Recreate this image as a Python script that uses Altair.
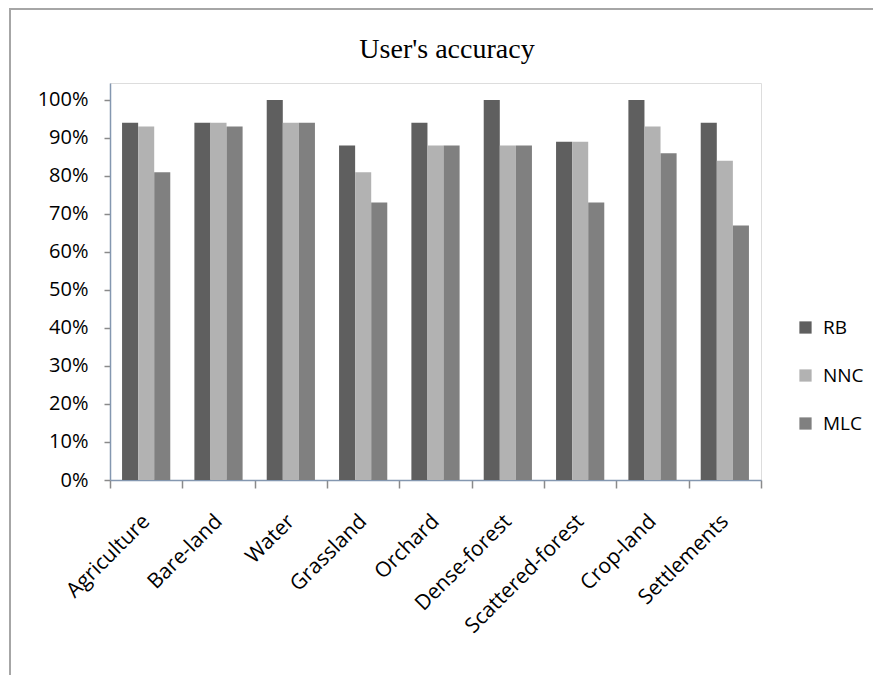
import altair as alt
import pandas as pd

# Land-cover classes and user's accuracy per classifier (fractions)
classes = ["Agriculture", "Bare-land", "Water", "Grassland", "Orchard",
           "Dense-forest", "Scattered-forest", "Crop-land", "Settlements"]
methods = ["RB", "NNC", "MLC"]
rb = [0.94, 0.94, 1.00, 0.88, 0.94, 1.00, 0.89, 1.00, 0.94]
nnc = [0.93, 0.94, 0.94, 0.81, 0.88, 0.88, 0.89, 0.93, 0.84]
mlc = [0.81, 0.93, 0.94, 0.73, 0.88, 0.88, 0.73, 0.86, 0.67]
colors = ["#5f5f5f", "#b2b2b2", "#808080"]
y_ticks = [0.0, 0.1, 0.2, 0.3, 0.4, 0.5, 0.6, 0.7, 0.8, 0.9, 1.0]
title_text = ["User's accuracy"]

rows = []
for m, series in zip(methods, [rb, nnc, mlc]):
    for c, v in zip(classes, series):
        rows.append({"Class": c, "Method": m, "Accuracy": v})
df = pd.DataFrame(rows)

FONT = "Open Sans"
AXIS_BLUE = "#8497b0"
TICK_GREY = "#8a8a8a"

bars = alt.Chart(df).mark_bar().encode(
    x=alt.X("Class:N", sort=classes, title=None,
            scale=alt.Scale(paddingInner=0, paddingOuter=0),
            axis=alt.Axis(tickBand="extent", tickSize=8, tickColor=TICK_GREY,
                          tickWidth=1.5, domainColor=AXIS_BLUE, domainWidth=1.5,
                          labelAngle=-45, labelAlign="right", labelBaseline="middle",
                          labelPadding=30, labelFont=FONT, labelFontSize=21,
                          labelColor="#000000")),
    xOffset=alt.XOffset("Method:N", sort=methods,
                        scale=alt.Scale(paddingInner=0, paddingOuter=0.75)),
    y=alt.Y("Accuracy:Q", title=None,
            scale=alt.Scale(domain=[0, 1.0447], nice=False),
            axis=alt.Axis(values=y_ticks, format=".0%", grid=False,
                          tickSize=6, tickColor=TICK_GREY, tickWidth=1.5,
                          domainColor=AXIS_BLUE, domainWidth=1.5,
                          labelPadding=16, labelFont=FONT, labelFontSize=20,
                          labelColor="#000000")),
    color=alt.Color("Method:N", sort=methods,
                    scale=alt.Scale(domain=methods, range=colors),
                    legend=alt.Legend(title=None, orient="none", legendX=686,
                                      legendY=235, symbolType="square",
                                      symbolSize=150, symbolStrokeWidth=0,
                                      labelFont=FONT, labelFontSize=19,
                                      labelColor="#000000", rowPadding=28,
                                      labelOffset=8, padding=0)),
)

# Outer chart frame
frame = alt.Chart(alt.Data(values=[{}])).mark_rect(
    fill=None, stroke="#a6a6a6", strokeWidth=2
).encode(
    x=alt.value(-100), x2=alt.value(800), y=alt.value(-74), y2=alt.value(700)
)

# Chart heading
heading = alt.Chart(pd.DataFrame({"t": title_text})).mark_text(
    font="Liberation Serif", fontSize=28, color="#000000",
    align="center", baseline="alphabetic"
).encode(text="t:N", x=alt.value(337), y=alt.value(-25))

chart = alt.layer(frame, bars, heading).properties(
    width=651, height=397,
    padding={"left": 110, "top": 83, "right": 112, "bottom": 195},
    autosize=alt.AutoSizeParams(type="none"),
).configure_view(
    stroke=AXIS_BLUE, strokeWidth=1.5
).configure(background="#ffffff")

chart.save("out.html", embed_options={"renderer": "svg", "actions": False})
